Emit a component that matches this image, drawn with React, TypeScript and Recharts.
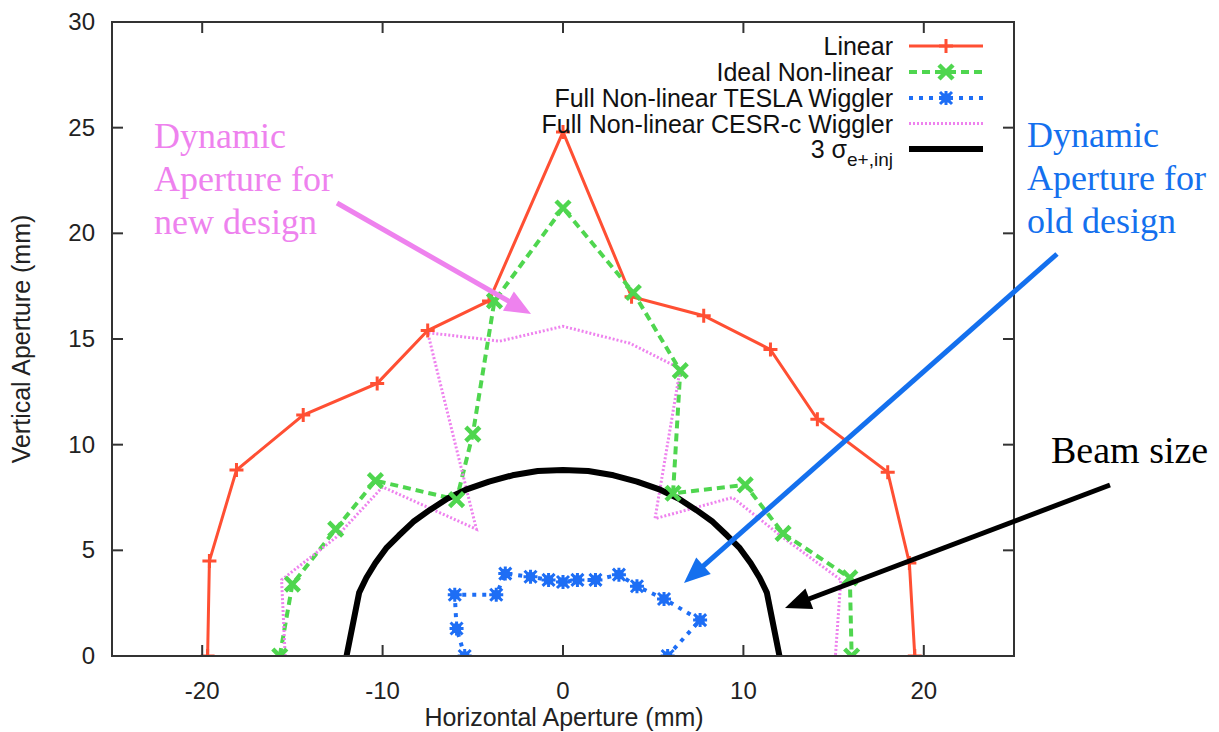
import React from 'react';
import { LineChart, Line, XAxis, YAxis } from 'recharts';

// axis ticks
const xTicks = [-20, -10, 0, 10, 20];
const yTicks = [0, 5, 10, 15, 20, 25, 30];
const xDomain = [-25, 25];
const yDomain = [0, 30];

// Linear
const linearX = [-19.7, -19.6, -18.1, -14.4, -10.3, -7.5, -4.1, 0, 3.8, 7.8, 11.5, 14.1, 18.0, 19.2, 19.5];
const linearY = [0, 4.5, 8.8, 11.4, 12.9, 15.4, 16.8, 24.8, 17.0, 16.1, 14.5, 11.2, 8.7, 4.4, 0];

// Ideal Non-linear
const idealX = [-15.7, -15.0, -12.6, -10.4, -5.9, -5.0, -3.8, 0, 3.9, 6.5, 6.1, 10.1, 12.2, 15.9, 16.0];
const idealY = [0, 3.4, 6.0, 8.3, 7.4, 10.5, 16.8, 21.2, 17.2, 13.5, 7.7, 8.1, 5.8, 3.7, 0];

// Full Non-linear TESLA Wiggler
const teslaX = [-5.45, -5.9, -6.0, -3.7, -3.2, -1.8, -0.8, 0, 0.8, 1.8, 3.1, 4.1, 5.6, 7.6, 5.8];
const teslaY = [0, 1.3, 2.9, 2.9, 3.9, 3.75, 3.6, 3.5, 3.6, 3.6, 3.85, 3.3, 2.7, 1.7, 0];

// Full Non-linear CESR-c Wiggler
const cesrX = [-15.4, -15.6, -12.6, -10.0, -4.8, -7.5, -3.5, 0, 3.7, 6.5, 5.1, 9.4, 12.2, 15.4, 15.1];
const cesrY = [0, 3.6, 5.6, 8.0, 6.0, 15.3, 14.9, 15.6, 14.8, 13.6, 6.5, 7.5, 5.6, 3.6, 0];

// 3 sigma beam size
const beamX = [-12, -11.3, -10.9, -10.4, -9.8, -9.1, -8.3, -7.4, -6.4, -5.3, -4.1, -2.8, -1.4, 0,
    1.4, 2.8, 4.1, 5.3, 6.4, 7.4, 8.3, 9.1, 9.8, 10.4, 10.9, 11.3, 12];
const beamY = [0, 3.0, 3.7, 4.4, 5.1, 5.7, 6.35, 6.9, 7.45, 7.9, 8.25, 8.55, 8.75, 8.8,
    8.75, 8.55, 8.25, 7.9, 7.45, 6.9, 6.35, 5.7, 5.1, 4.4, 3.7, 3.0, 0];

const toPoints = (xs: number[], ys: number[]) => xs.map((x, i) => ({ x, y: ys[i] }));

const linear = toPoints(linearX, linearY);
const ideal = toPoints(idealX, idealY);
const tesla = toPoints(teslaX, teslaY);
const cesr = toPoints(cesrX, cesrY);
const beam = toPoints(beamX, beamY);

// layout
const W = 1219, H = 732;
const MARGIN = { top: 22, right: 205, bottom: 26, left: 52 };
const Y_AXIS_W = 60, X_AXIS_H = 50;
const PLOT_X = MARGIN.left + Y_AXIS_W;
const PLOT_Y = MARGIN.top;
const PLOT_W = W - MARGIN.left - MARGIN.right - Y_AXIS_W;
const PLOT_H = H - MARGIN.top - MARGIN.bottom - X_AXIS_H;
// frame tick positions (axis decoration only)
const tickPx = (t: number) => PLOT_X + ((t - xDomain[0]) / (xDomain[1] - xDomain[0])) * PLOT_W;
const tickPy = (t: number) => PLOT_Y + PLOT_H - ((t - yDomain[0]) / (yDomain[1] - yDomain[0])) * PLOT_H;

const SANS = '"Liberation Sans", Arial, sans-serif';
const SERIF = '"Liberation Serif", "Times New Roman", serif';
const FRAME = '#333';
const RED = '#ff4f33';
const GREEN = '#4fd64f';
const BLUE = '#1e6ef5';
const PINK = '#ee82ee';
const NOTE_BLUE = '#1470ee';

const plusShape = (cx: number, cy: number, key?: any) => (
    <path key={key} d={`M${cx - 7},${cy}h14M${cx},${cy - 7}v14`} stroke={RED} strokeWidth={3} fill="none" />
);
const crossShape = (cx: number, cy: number, key?: any) => (
    <path key={key} d={`M${cx - 7},${cy - 7}L${cx + 7},${cy + 7}M${cx - 7},${cy + 7}L${cx + 7},${cy - 7}`} stroke={GREEN} strokeWidth={4.5} fill="none" />
);
const starShape = (cx: number, cy: number, key?: any) => (
    <g key={key}>
        <rect x={cx - 4.5} y={cy - 4.5} width={9} height={9} fill={BLUE} />
        <path d={`M${cx - 7},${cy}h14M${cx},${cy - 7}v14M${cx - 6},${cy - 6}L${cx + 6},${cy + 6}M${cx - 6},${cy + 6}L${cx + 6},${cy - 6}`} stroke={BLUE} strokeWidth={3} />
    </g>
);

const LeftTick = ({ x, y, payload }: any) => (
    <text x={x - 17} y={y + 8} textAnchor="end" fontSize={24} fontFamily={SANS} fill="#222">{payload.value}</text>
);
const BottomTick = ({ x, y, payload }: any) => (
    <text x={x} y={y + 43} textAnchor="middle" fontSize={24} fontFamily={SANS} fill="#222">{payload.value}</text>
);

function Arrow({ x1, y1, x2, y2, color, width = 5, head = 26, half = 11 }: any) {
    const dx = x2 - x1, dy = y2 - y1;
    const len = Math.hypot(dx, dy);
    const ux = dx / len, uy = dy / len;
    const bx = x2 - ux * head, by = y2 - uy * head;
    return (
        <g>
            <line x1={x1} y1={y1} x2={bx + ux * 2} y2={by + uy * 2} stroke={color} strokeWidth={width} />
            <polygon points={`${x2},${y2} ${bx - uy * half},${by + ux * half} ${bx + uy * half},${by - ux * half}`} fill={color} />
        </g>
    );
}

const legendRows = [
    { label: 'Linear', y: 46 },
    { label: 'Ideal Non-linear', y: 72 },
    { label: 'Full Non-linear TESLA Wiggler', y: 98 },
    { label: 'Full Non-linear CESR-c Wiggler', y: 123.5 },
];

export default function App() {
    return (
        <div style={{ position: 'absolute', left: 0, top: 0, width: W, height: H, background: '#fff' }}>
            <LineChart width={W} height={H} margin={MARGIN}>
                <XAxis
                    dataKey="x"
                    type="number"
                    domain={xDomain}
                    ticks={xTicks}
                    height={X_AXIS_H}
                    tickSize={0}
                    tickMargin={0}
                    tickLine={false}
                    axisLine={{ stroke: FRAME, strokeWidth: 2 }}
                    tick={<BottomTick />}
                    allowDataOverflow
                />
                <YAxis
                    type="number"
                    domain={yDomain}
                    ticks={yTicks}
                    width={Y_AXIS_W}
                    tickSize={0}
                    tickMargin={0}
                    tickLine={false}
                    axisLine={{ stroke: FRAME, strokeWidth: 2 }}
                    tick={<LeftTick />}
                    allowDataOverflow
                />
                <Line
                    data={linear}
                    dataKey="y"
                    type="linear"
                    stroke={RED}
                    strokeWidth={3}
                    dot={(p: any) => plusShape(p.cx, p.cy, p.index)}
                    activeDot={false}
                    isAnimationActive={false}
                />
                <Line
                    data={ideal}
                    dataKey="y"
                    type="linear"
                    stroke={GREEN}
                    strokeWidth={4}
                    strokeDasharray="8 5"
                    dot={(p: any) => crossShape(p.cx, p.cy, p.index)}
                    activeDot={false}
                    isAnimationActive={false}
                />
                <Line
                    data={tesla}
                    dataKey="y"
                    type="linear"
                    stroke={BLUE}
                    strokeWidth={4}
                    strokeDasharray="4 6"
                    dot={(p: any) => starShape(p.cx, p.cy, p.index)}
                    activeDot={false}
                    isAnimationActive={false}
                />
                <Line
                    data={cesr}
                    dataKey="y"
                    type="linear"
                    stroke={PINK}
                    strokeWidth={3}
                    strokeDasharray="2 2"
                    dot={false}
                    activeDot={false}
                    isAnimationActive={false}
                />
                <Line
                    data={beam}
                    dataKey="y"
                    type="linear"
                    stroke="#000"
                    strokeWidth={6}
                    strokeLinejoin="round"
                    dot={false}
                    activeDot={false}
                    isAnimationActive={false}
                />
            </LineChart>

            <svg width={W} height={H} style={{ position: 'absolute', left: 0, top: 0, pointerEvents: 'none' }}>
                {/* plot frame with inward ticks on all four sides */}
                <rect x={PLOT_X} y={PLOT_Y} width={PLOT_W} height={PLOT_H} fill="none" stroke={FRAME} strokeWidth={2} />
                {xTicks.map((t) => (
                    <g key={`xt${t}`}>
                        <line x1={tickPx(t)} x2={tickPx(t)} y1={PLOT_Y + PLOT_H} y2={PLOT_Y + PLOT_H - 11} stroke={FRAME} strokeWidth={2} />
                        <line x1={tickPx(t)} x2={tickPx(t)} y1={PLOT_Y} y2={PLOT_Y + 11} stroke={FRAME} strokeWidth={2} />
                    </g>
                ))}
                {yTicks.map((t) => (
                    <g key={`yt${t}`}>
                        <line x1={PLOT_X} x2={PLOT_X + 11} y1={tickPy(t)} y2={tickPy(t)} stroke={FRAME} strokeWidth={2} />
                        <line x1={PLOT_X + PLOT_W} x2={PLOT_X + PLOT_W - 11} y1={tickPy(t)} y2={tickPy(t)} stroke={FRAME} strokeWidth={2} />
                    </g>
                ))}

                {/* axis titles */}
                <text x={564} y={726} textAnchor="middle" fontSize={25} fontFamily={SANS} fill="#222">Horizontal Aperture (mm)</text>
                <text x={30} y={339} transform="rotate(-90 30 339)" textAnchor="middle" fontSize={25} fontFamily={SANS} fill="#222">Vertical Aperture (mm)</text>

                {/* legend */}
                {legendRows.map((r) => (
                    <text key={r.label} x={893} y={r.y + 9} textAnchor="end" fontSize={25} fontFamily={SANS} fill="#111">{r.label}</text>
                ))}
                <text x={893} y={158} textAnchor="end" fontSize={25} fontFamily={SANS} fill="#111">
                    3 σ<tspan fontSize={19} dy={8}>e+,inj</tspan>
                </text>
                <line x1={909} x2={983} y1={46} y2={46} stroke={RED} strokeWidth={3} />
                {plusShape(946, 46)}
                <line x1={909} x2={983} y1={72} y2={72} stroke={GREEN} strokeWidth={4} strokeDasharray="8 5" />
                {crossShape(946, 72)}
                <line x1={909} x2={983} y1={98} y2={98} stroke={BLUE} strokeWidth={4} strokeDasharray="4 6" />
                {starShape(946, 98)}
                <line x1={909} x2={983} y1={123.5} y2={123.5} stroke={PINK} strokeWidth={3} strokeDasharray="2 2" />
                <line x1={909} x2={983} y1={149} y2={149} stroke="#000" strokeWidth={6} />

                {/* annotations */}
                <text fontSize={36} fontFamily={SERIF} fill={PINK}>
                    <tspan x={154} y={148}>Dynamic</tspan>
                    <tspan x={154} y={191}>Aperture for</tspan>
                    <tspan x={154} y={234}>new design</tspan>
                </text>
                <text fontSize={36} fontFamily={SERIF} fill={NOTE_BLUE}>
                    <tspan x={1027} y={147}>Dynamic</tspan>
                    <tspan x={1027} y={190}>Aperture for</tspan>
                    <tspan x={1027} y={233}>old design</tspan>
                </text>
                <text x={1051} y={463} fontSize={38} fontFamily={SERIF} fill="#000">Beam size</text>

                <Arrow x1={337} y1={203} x2={531} y2={314} color={PINK} />
                <Arrow x1={1057} y1={254} x2={684} y2={583} color={NOTE_BLUE} />
                <Arrow x1={1110} y1={485} x2={785} y2={608} color="#000" />
            </svg>
        </div>
    );
}
